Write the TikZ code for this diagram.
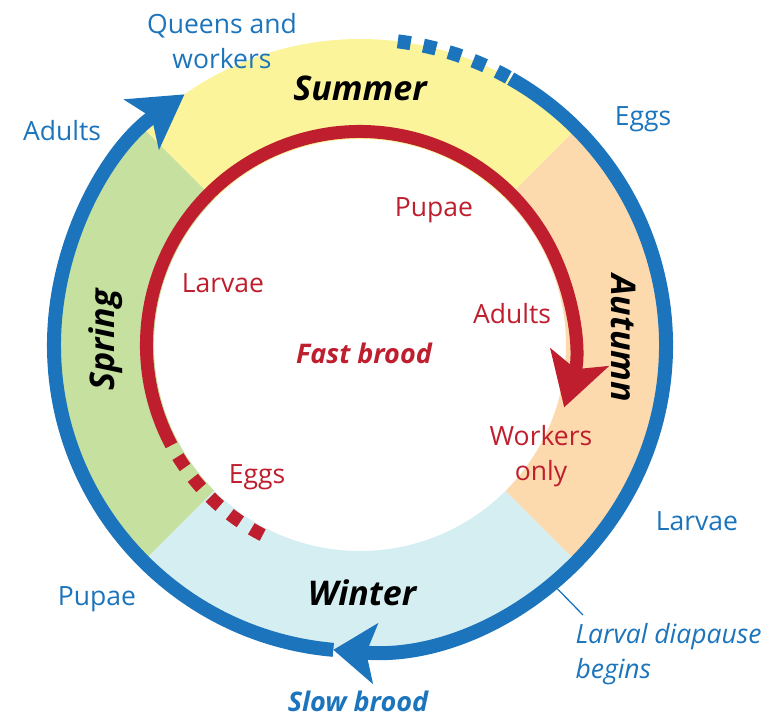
\documentclass[tikz,border=0pt]{standalone}
\usepackage{fontspec}
\setmainfont{Open Sans}
\usetikzlibrary{arrows.meta}

\definecolor{cycleblue}{HTML}{1C75BC}
\definecolor{cyclered}{HTML}{BE1E2D}
\definecolor{summerfill}{HTML}{FBF49A}
\definecolor{springfill}{HTML}{C5E09F}
\definecolor{winterfill}{HTML}{D5EEF2}
\definecolor{autumnfill}{HTML}{FCDAAE}

% one quarter of the season ring
\newcommand{\seasonband}[3]{%
  \fill[#1] (#2:206) arc[start angle=#2,end angle=#3,radius=206]
    -- (#3:306) arc[start angle=#3,end angle=#2,radius=306] -- cycle;}

\begin{document}
\begin{tikzpicture}[x=1pt,y=1pt,
    stagelbl/.style={font=\fontsize{26.5}{35}\selectfont,align=center,anchor=base},
    seasonlbl/.style={font=\fontsize{34}{40}\selectfont\bfseries\itshape,anchor=base},
    broodlbl/.style={font=\fontsize{27}{32}\selectfont\bfseries\itshape,anchor=base,inner sep=1pt},
    bigtip/.style={-{Stealth[length=52pt,width=60pt,inset=12pt]}},
    flattip/.style={-{Stealth[length=42pt,width=60pt,inset=9pt]}}]
  \useasboundingbox (-360,-371) rectangle (418,345);

  % seasons
  \seasonband{summerfill}{45}{135}
  \seasonband{springfill}{135}{225}
  \seasonband{winterfill}{225}{315}
  \seasonband{autumnfill}{-45}{45}
  \node[seasonlbl] (summer) at (0,245) {Summer};
  \node[seasonlbl,rotate=90] (spring) at (-245,5) {Spring};
  \node[seasonlbl] (winter) at (2,-260) {Winter};
  \node[seasonlbl,rotate=-90] (autumn) at (251,7) {Autumn};

  % fast brood
  \draw[cyclered,line width=13pt,bigtip] (208:213.5)
    arc[start angle=208,end angle=-17,radius=213.5];
  \draw[cyclered,line width=13pt,dash pattern=on 13pt off 13pt,dash phase=13pt]
    (208:213.5) arc[start angle=208,end angle=243,radius=213.5];

  % slow brood
  \draw[cycleblue,line width=14pt,dash pattern=on 13pt off 13pt]
    (61:306) arc[start angle=61,end angle=83,radius=306];
  \draw[cycleblue,line width=14pt,flattip] (60.5:306)
    arc[start angle=60.5,end angle=-95,radius=306];
  \draw[cycleblue,line width=14pt,bigtip] (-95:306)
    arc[start angle=-95,end angle=-235,radius=306];

  % stages outside
  \node[stagelbl,cycleblue] (queens) at (-138,277) {Queens and\\workers};
  \node[stagelbl,cycleblue] (adultsout) at (-298,205) {Adults};
  \node[stagelbl,cycleblue] (eggsout) at (283,220) {Eggs};
  \node[stagelbl,cycleblue] (larvaeout) at (337,-185) {Larvae};
  \node[stagelbl,cycleblue] (pupaeout) at (-263,-260) {Pupae};
  \node[stagelbl,cycleblue,font=\fontsize{26.5}{35}\selectfont\itshape,
    align=left,anchor=base west] (diapause) at (212,-333) {Larval diapause\\begins};
  \coordinate (diapring) at (-51:314);
  \coordinate (diapend) at (223,-270);
  \draw[cycleblue,line width=1.3pt] (diapring) -- (diapend);
  \node[broodlbl,cycleblue] (slow) at (-2,-366) {Slow brood};

  % stages inside
  \node[stagelbl,cyclered] (pupaein) at (74,129) {Pupae};
  \node[stagelbl,cyclered] (larvaein) at (-137,53) {Larvae};
  \node[stagelbl,cyclered] (adultsin) at (152,22) {Adults};
  \node[stagelbl,cyclered] (workers) at (181,-135) {Workers\\only};
  \node[stagelbl,cyclered] (eggsin) at (-103,-138) {Eggs};
  \node[broodlbl,cyclered] (fast) at (4,-18) {Fast brood};
\end{tikzpicture}
\end{document}
